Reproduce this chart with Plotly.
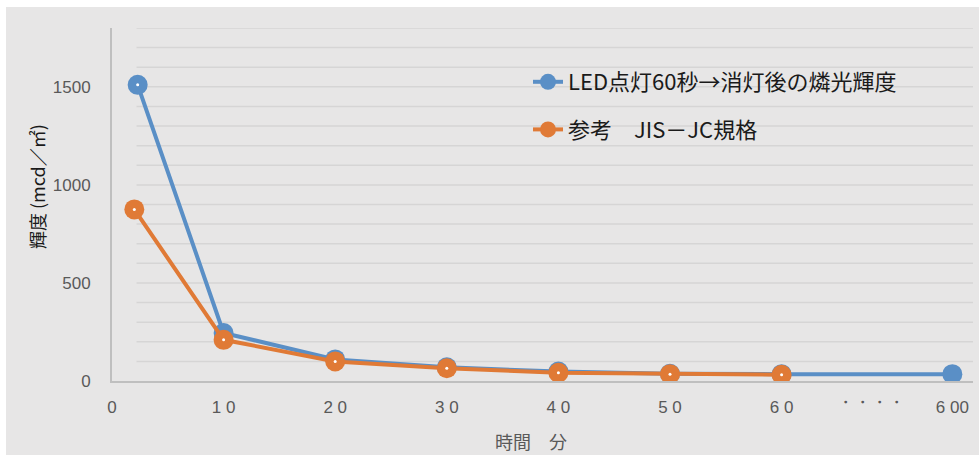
import plotly.graph_objects as go

# --- data -------------------------------------------------------------
# LED lit for 60 s, then switched off: afterglow luminance (mcd/m2)
led_time = [2.3, 10, 20, 30, 40, 50, 60, 600]
led_lum = [1510, 245, 110, 70, 48, 37, 35, 35]

# Reference curve: JIS JC class
jis_time = [2.0, 10, 20, 30, 40, 50, 60]
jis_lum = [875, 210, 100, 65, 42, 35, 32]

tick_minutes = [0, 10, 20, 30, 40, 50, 60, 600]
tick_labels = ["0", "1 0", "2 0", "3 0", "4 0", "5 0", "6 0", "6 00"]
y_tick_vals = [0, 500, 1000, 1500]

led_name = "LED点灯60秒→消灯後の燐光輝度"
jis_name = "参考　JIS－JC規格"

# --- broken time axis: everything past 60 min is squeezed in after a gap
BREAK_AT = 60
AFTER_BREAK_POS = 75.3
GAP_POS = 68.0


def axis_pos(t):
    return t if t <= BREAK_AT else AFTER_BREAK_POS


# --- style --------------------------------------------------------------
W, H = 979, 455
M_L, M_R, M_T, M_B = 112, 6, 28, 74
PW = W - M_L - M_R
PH = H - M_T - M_B
BG = "#e7e6e6"
GRID = "#d6d5d5"
AXIS = "#bfbfbf"
BLUE = "#5a8fc6"
ORANGE = "#e07a36"
TICK_FONT = dict(family="Liberation Sans Narrow, Liberation Sans, sans-serif",
                 size=17, color="#595959")
CJK = "Noto Sans CJK JP, Noto Sans, sans-serif"

X_MAX = 77.15
Y_MAX = 1800


def px_x(px):
    """Page pixel column -> paper x fraction."""
    return (px - M_L) / PW


def px_y(py):
    """Page pixel row (from top) -> paper y fraction."""
    return (H - M_B - py) / PH


fig = go.Figure()


def add_series(times, values, color, name, dot_count):
    xs = [axis_pos(t) for t in times]
    fig.add_trace(go.Scatter(
        x=xs, y=values, name=name, mode="lines+markers",
        line=dict(color=color, width=4),
        marker=dict(color=color, size=20, line=dict(width=0)),
        legendgroup=name,
    ))
    # small white centre dot on the markers
    fig.add_trace(go.Scatter(
        x=xs[:dot_count], y=values[:dot_count], mode="markers",
        marker=dict(color="white", size=3, line=dict(width=0)),
        showlegend=False, hoverinfo="skip",
    ))


add_series(led_time, led_lum, BLUE, led_name, len(led_time) - 1)
add_series(jis_time, jis_lum, ORANGE, jis_name, len(jis_time))

# horizontal grid every 100, starting a little right of the y axis
shapes = []
for v in range(100, Y_MAX + 1, 100):
    shapes.append(dict(type="line", xref="x", yref="y", x0=2.2, x1=X_MAX,
                       y0=v, y1=v, line=dict(color=GRID, width=1.5),
                       layer="below"))

# thin white strips along the top and left edge of the page
shapes.append(dict(type="rect", xref="paper", yref="paper",
                   x0=px_x(0), x1=px_x(W), y0=px_y(7), y1=px_y(0),
                   fillcolor="white", line=dict(width=0), layer="below"))
shapes.append(dict(type="rect", xref="paper", yref="paper",
                   x0=px_x(0), x1=px_x(6), y0=px_y(H), y1=px_y(0),
                   fillcolor="white", line=dict(width=0), layer="below"))

annotations = [
    dict(text="輝度 (mcd／㎡)", xref="paper", yref="paper",
         x=px_x(37), y=px_y(187), textangle=-90,
         showarrow=False, font=dict(family=CJK, size=18, color="#1a1a1a"),
         xanchor="center", yanchor="middle"),
    dict(text="時間　分", xref="paper", yref="paper",
         x=px_x(531), y=px_y(441),
         showarrow=False, font=dict(family=CJK, size=18, color="#595959"),
         xanchor="center", yanchor="middle"),
    dict(text="・・・・", xref="x", yref="paper", x=GAP_POS,
         y=px_y(402), showarrow=False, font=TICK_FONT,
         xanchor="center", yanchor="middle"),
]

fig.update_layout(
    width=W, height=H,
    margin=dict(l=M_L, r=M_R, t=M_T, b=M_B, pad=0, autoexpand=False),
    paper_bgcolor=BG, plot_bgcolor=BG,
    shapes=shapes, annotations=annotations,
    showlegend=True,
    legend=dict(
        xref="paper", yref="paper",
        x=px_x(528), y=px_y(61), xanchor="left", yanchor="top",
        bgcolor="rgba(0,0,0,0)", font=dict(family=CJK, size=22, color="#1a1a1a"),
        tracegroupgap=16, traceorder="grouped", itemsizing="trace",
    ),
    xaxis=dict(
        range=[0, X_MAX], showgrid=False, zeroline=False,
        showline=True, linecolor=AXIS, linewidth=2,
        tickmode="array", tickvals=[axis_pos(t) for t in tick_minutes],
        ticktext=tick_labels, tickfont=TICK_FONT,
        ticks="outside", ticklen=10, tickcolor="rgba(0,0,0,0)",
        fixedrange=True,
    ),
    yaxis=dict(
        range=[0, Y_MAX], showgrid=False, zeroline=False,
        showline=True, linecolor=AXIS, linewidth=2,
        tickmode="array", tickvals=y_tick_vals, tickfont=TICK_FONT,
        ticks="outside", ticklen=16, tickcolor="rgba(0,0,0,0)",
        fixedrange=True,
    ),
)

fig.write_html("out.html")
